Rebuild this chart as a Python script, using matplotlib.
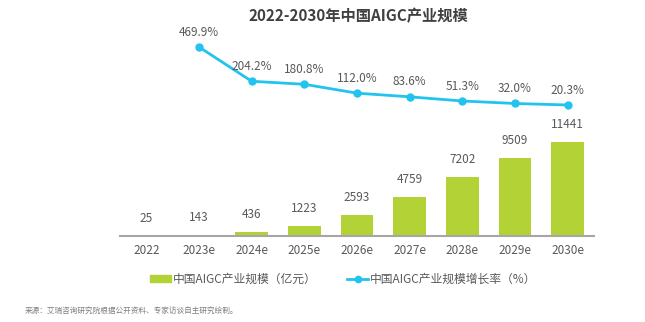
import matplotlib
matplotlib.use('Agg')
import matplotlib.pyplot as plt
from matplotlib.patches import Patch
from matplotlib.lines import Line2D

plt.rcParams['font.family'] = ['Noto Sans CJK SC', 'DejaVu Sans']

# data
years = ['2022', '2023e', '2024e', '2025e', '2026e', '2027e', '2028e', '2029e', '2030e']
scale = [25, 143, 436, 1223, 2593, 4759, 7202, 9509, 11441]
growth_years = years[1:]
growth = [469.9, 204.2, 180.8, 112.0, 83.6, 51.3, 32.0, 20.3]

GREEN = '#B2D235'
CYAN = '#22C3EE'
GREY_TXT = '#595959'

fig = plt.figure(figsize=(6.45, 3.22), dpi=100)
ax = fig.add_axes([0.186, 0.267, 0.735, 0.612])
x = list(range(len(years)))
ax.bar(x, scale, width=0.62, color=GREEN, zorder=2)
for xi, v in zip(x, scale):
    ax.annotate(str(v), (xi, v), xytext=(0, 8), textcoords='offset points',
                ha='center', va='bottom', fontsize=8.5, color=GREY_TXT)
ax.set_xlim(-0.5, 8.5)
ax.set_ylim(0, 23966)
ax.set_xticks(x)
ax.set_xticklabels(years, fontsize=8.5, color=GREY_TXT)
ax.tick_params(axis='x', length=0, pad=6)
ax.set_yticks([])
for s in ['top', 'right', 'left']:
    ax.spines[s].set_visible(False)
ax.spines['bottom'].set_color('#A6A6A6')
ax.spines['bottom'].set_linewidth(1.5)

ax2 = ax.twinx()
gx = [years.index(y) for y in growth_years]
ax2.plot(gx, growth, color=CYAN, lw=2, marker='o', ms=5, zorder=3)
for xi, v in zip(gx, growth):
    ax2.annotate(f'{v:.1f}%', (xi, v), xytext=(0, 6), textcoords='offset points',
                 ha='center', va='bottom', fontsize=8.5, color=GREY_TXT)
ax2.set_ylim(-995, 532)
ax2.axis('off')

fig.text(0.555, 0.95, '2022-2030年中国AIGC产业规模', ha='center', va='center',
         fontsize=11, fontweight='bold', color='#404040')

handles = [Patch(color=GREEN),
           Line2D([0], [0], color=CYAN, lw=2, marker='o', ms=4.5)]
labels = ['中国AIGC产业规模（亿元）', '中国AIGC产业规模增长率（%）']
fig.legend(handles, labels, loc='center', bbox_to_anchor=(0.532, 0.132), ncol=2,
           frameon=False, fontsize=8.5, labelcolor=GREY_TXT, handlelength=1.8,
           handleheight=0.5, columnspacing=2.6, handletextpad=0.15)

fig.text(0.039, 0.035, '来源：艾瑞咨询研究院根据公开资料、专家访谈自主研究绘制。',
         fontsize=5.5, color='#7F7F7F', ha='left', va='center')

fig.savefig('out.png', dpi=100)
